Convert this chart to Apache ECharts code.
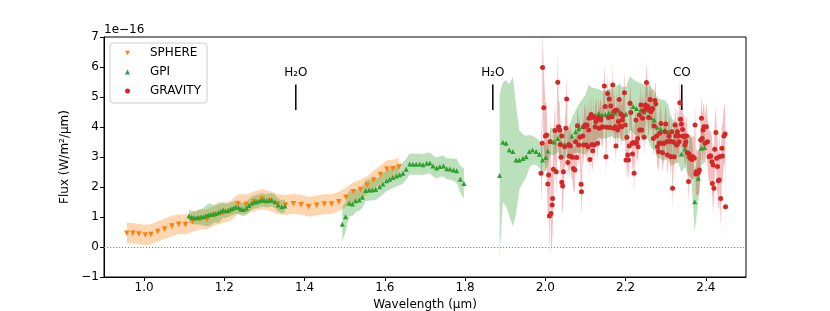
<!DOCTYPE html>
<html><head><meta charset="utf-8">
<script src="https://cdn.jsdelivr.net/npm/echarts@6/dist/echarts.min.js"></script>
<style>html,body{margin:0;padding:0;background:#fff}#c{width:830px;height:311px}</style>
</head><body><div id="c"></div>
<script>
// ---- DATA: [wavelength (µm), flux (1e-16 W/m2/µm), error] ----
const sphere = [
[0.957,0.46,0.34],[0.972,0.46,0.34],[0.987,0.43,0.34],[1.003,0.40,0.34],[1.017,0.42,0.34],
[1.034,0.52,0.34],[1.051,0.60,0.34],[1.069,0.70,0.34],[1.086,0.76,0.33],[1.103,0.75,0.33],
[1.121,0.84,0.33],[1.139,0.92,0.33],[1.157,0.92,0.33],[1.176,1.05,0.33],[1.196,1.13,0.33],
[1.215,1.20,0.33],[1.234,1.43,0.33],[1.254,1.42,0.33],[1.274,1.52,0.33],[1.294,1.60,0.33],
[1.313,1.54,0.33],[1.333,1.43,0.33],[1.352,1.40,0.33],[1.372,1.44,0.33],[1.391,1.41,0.33],
[1.410,1.34,0.33],[1.430,1.39,0.33],[1.449,1.43,0.33],[1.467,1.43,0.33],[1.485,1.51,0.32],
[1.503,1.66,0.32],[1.521,1.84,0.32],[1.539,1.92,0.32],[1.556,2.06,0.31],[1.572,2.23,0.31],
[1.589,2.42,0.30],[1.605,2.59,0.30],[1.620,2.61,0.30],[1.635,2.67,0.30]
];
const gpiJ = [
[1.112,1.03,0.22],[1.118,0.99,0.22],[1.123,0.98,0.22],[1.129,0.97,0.22],[1.135,0.99,0.24],
[1.141,1.00,0.26],[1.148,1.01,0.30],[1.154,1.04,0.34],[1.160,1.07,0.38],[1.166,1.08,0.36],
[1.172,1.10,0.30],[1.178,1.12,0.30],[1.185,1.14,0.34],[1.191,1.18,0.30],[1.197,1.23,0.26],
[1.203,1.20,0.24],[1.209,1.22,0.22],[1.216,1.27,0.22],[1.222,1.29,0.22],[1.228,1.33,0.22],
[1.235,1.32,0.22],[1.241,1.26,0.22],[1.247,1.25,0.22],[1.255,1.29,0.22],[1.261,1.38,0.22],
[1.268,1.46,0.22],[1.274,1.50,0.22],[1.280,1.51,0.22],[1.287,1.54,0.22],[1.293,1.57,0.22],
[1.299,1.56,0.22],[1.305,1.54,0.22],[1.312,1.56,0.22],[1.318,1.57,0.22],[1.326,1.51,0.22],
[1.334,1.40,0.22],[1.343,1.34,0.22],[1.351,1.37,0.22]
];
const gpiH = [
[1.494,0.76,0.58],[1.502,1.01,0.50],[1.511,1.46,0.44],[1.519,1.43,0.40],[1.527,1.54,0.38],
[1.536,1.57,0.36],[1.544,1.66,0.36],[1.552,1.88,0.35],[1.561,1.90,0.35],[1.569,1.90,0.35],
[1.577,1.92,0.35],[1.587,2.01,0.35],[1.595,2.10,0.35],[1.604,2.21,0.35],[1.612,2.26,0.35],
[1.620,2.32,0.35],[1.629,2.37,0.35],[1.637,2.41,0.35],[1.645,2.46,0.35],[1.653,2.59,0.35],
[1.662,2.77,0.35],[1.670,2.76,0.35],[1.678,2.76,0.35],[1.687,2.77,0.35],[1.695,2.74,0.35],
[1.704,2.79,0.35],[1.712,2.80,0.35],[1.720,2.70,0.35],[1.729,2.63,0.35],[1.737,2.68,0.35],
[1.746,2.70,0.35],[1.754,2.61,0.35],[1.762,2.60,0.36],[1.771,2.57,0.37],[1.779,2.54,0.40],
[1.788,2.26,0.45],[1.797,2.12,0.50]
];
const gpiK = [
[1.886,2.38,2.70],[1.894,3.49,2.00],[1.902,3.46,2.10],[1.910,3.23,2.20],[1.919,3.18,2.50],
[1.927,2.90,1.80],[1.935,2.90,1.00],[1.944,2.95,0.80],[1.952,3.01,0.70],[1.960,3.18,0.55],
[1.968,3.23,0.48],[1.977,3.18,0.45],[1.985,3.09,0.45],[1.993,2.90,0.45],[2.001,2.98,0.45],
[2.006,3.20,0.45],[2.014,3.53,0.45],[2.022,3.50,0.45],[2.031,3.62,0.45],[2.039,3.46,0.45],
[2.047,3.42,0.45],[2.056,3.40,0.50],[2.066,3.70,0.60],[2.075,3.84,0.70],[2.083,3.94,0.80],
[2.091,4.01,0.90],[2.100,4.07,1.00],[2.108,4.32,1.10],[2.116,4.32,1.00],[2.124,4.39,0.90],
[2.133,4.46,0.80],[2.141,4.40,0.80],[2.149,4.42,0.80],[2.158,4.46,0.80],[2.166,4.49,0.80],
[2.174,4.47,0.85],[2.184,4.54,0.90],[2.192,4.43,0.90],[2.201,4.43,0.90],[2.211,4.81,0.90],
[2.219,4.68,0.90],[2.227,4.62,0.90],[2.238,4.57,0.90],[2.246,4.50,0.90],[2.254,4.57,0.95],
[2.263,4.32,1.00],[2.271,4.23,1.00],[2.279,3.99,1.00],[2.288,3.92,1.00],[2.298,3.90,1.00],
[2.306,3.84,0.90],[2.314,3.51,0.80],[2.323,3.48,0.70],[2.331,3.46,0.65],[2.339,3.10,0.60],
[2.348,3.27,0.60],[2.356,3.04,0.65],[2.364,3.01,0.75],[2.372,1.51,1.00],[2.381,2.29,0.80],
[2.389,3.29,0.55],[2.397,3.32,0.50]
];
const gravity = [
[1.989,2.46,1.00],[1.992,3.46,1.20],[1.993,5.98,1.20],[1.996,4.64,1.30],[2.000,3.70,1.10],
[2.003,3.73,1.10],[2.006,2.10,1.20],[2.008,2.40,1.30],[2.010,1.03,1.40],[2.012,3.51,1.10],
[2.014,1.12,1.30],[2.017,1.40,1.20],[2.018,1.62,1.10],[2.020,2.59,1.00],[2.024,3.88,0.90],
[2.027,2.51,0.90],[2.031,5.49,1.00],[2.033,4.01,0.90],[2.036,3.90,0.90],[2.037,3.42,0.80],
[2.039,2.99,0.80],[2.041,3.70,0.80],[2.041,2.16,0.90],[2.043,2.03,0.90],[2.045,2.51,0.80],
[2.048,3.34,0.80],[2.051,3.96,0.75],[2.053,4.93,0.80],[2.056,2.82,0.75],[2.058,3.42,0.75],
[2.060,3.03,0.75],[2.062,3.37,0.70],[2.065,3.01,0.70],[2.068,2.99,0.75],[2.070,2.62,0.75],
[2.073,2.57,0.75],[2.075,3.51,0.70],[2.078,2.98,0.70],[2.080,4.04,0.70],[2.083,3.40,0.70],
[2.086,3.66,0.70],[2.089,2.09,0.75],[2.090,1.84,0.75],[2.093,3.70,0.70],[2.095,3.40,0.70],
[2.097,4.01,0.70],[2.099,4.07,0.70],[2.102,3.40,0.70],[2.104,4.07,0.70],[2.106,3.34,0.70],
[2.108,3.90,0.70],[2.109,4.29,0.70],[2.111,2.92,0.70],[2.114,4.42,0.70],[2.116,3.42,0.70],
[2.118,3.21,0.70],[2.119,4.34,0.70],[2.122,3.40,0.65],[2.124,4.01,0.65],[2.126,4.18,0.65],
[2.128,4.29,0.65],[2.130,3.46,0.65],[2.133,4.32,0.65],[2.134,3.96,0.65],[2.137,4.29,0.65],
[2.138,4.23,0.65],[2.141,3.99,0.65],[2.143,4.01,0.65],[2.147,5.37,0.70],[2.149,4.68,0.65],
[2.151,3.01,0.65],[2.153,3.99,0.65],[2.155,5.12,0.70],[2.157,4.32,0.65],[2.159,4.93,0.65],
[2.161,3.98,0.65],[2.163,4.70,0.65],[2.166,4.34,0.65],[2.168,5.40,0.70],[2.170,3.96,0.65],
[2.172,4.53,0.65],[2.174,4.01,0.65],[2.176,3.37,0.65],[2.177,4.57,0.65],[2.180,3.90,0.65],
[2.182,4.18,0.65],[2.184,4.92,0.65],[2.186,4.03,0.65],[2.188,4.43,0.65],[2.190,4.01,0.65],
[2.192,4.23,0.65],[2.194,4.37,0.65],[2.197,5.14,0.70],[2.199,4.07,0.65],[2.201,2.90,0.70],
[2.203,3.66,0.65],[2.205,3.07,0.65],[2.207,2.90,0.65],[2.209,3.37,0.65],[2.211,4.79,0.65],
[2.213,4.48,0.65],[2.216,3.46,0.65],[2.217,3.10,0.65],[2.219,3.48,0.65],[2.221,2.46,0.70],
[2.223,3.46,0.65],[2.226,4.23,0.65],[2.227,3.48,0.65],[2.230,3.62,0.65],[2.231,3.34,0.65],
[2.234,4.40,0.65],[2.235,3.90,0.65],[2.238,4.73,0.65],[2.240,3.90,0.65],[2.242,4.29,0.65],
[2.244,4.54,0.65],[2.246,3.66,0.65],[2.249,4.73,0.65],[2.250,4.62,0.65],[2.252,5.48,0.70],
[2.255,4.68,0.65],[2.257,4.32,0.65],[2.259,4.60,0.65],[2.261,4.92,0.65],[2.263,4.51,0.65],
[2.265,4.57,0.65],[2.267,4.62,0.65],[2.269,3.62,0.65],[2.271,4.03,0.65],[2.273,4.88,0.65],
[2.275,4.77,0.65],[2.277,3.70,0.65],[2.279,3.34,0.65],[2.282,3.18,0.65],[2.284,3.46,0.65],
[2.285,3.79,0.65],[2.288,4.12,0.65],[2.290,3.46,0.65],[2.292,3.14,0.65],[2.294,3.46,0.65],
[2.296,3.46,0.65],[2.298,3.84,0.65],[2.300,4.10,0.65],[2.303,3.51,0.70],[2.304,3.07,0.70],
[2.308,3.70,0.70],[2.310,3.53,0.70],[2.313,3.01,0.70],[2.315,3.84,0.70],[2.317,1.96,0.75],
[2.319,3.51,0.70],[2.321,3.01,0.70],[2.323,4.07,0.70],[2.325,3.70,0.70],[2.327,3.40,0.70],
[2.329,3.84,0.70],[2.332,3.70,0.70],[2.333,3.51,0.70],[2.335,4.81,0.75],[2.337,4.26,0.70],
[2.339,4.09,0.70],[2.342,3.92,0.70],[2.343,3.70,0.70],[2.346,3.68,0.70],[2.348,3.40,0.70],
[2.350,3.51,0.70],[2.352,3.70,0.70],[2.354,3.14,0.70],[2.357,2.18,0.75],[2.358,3.10,0.70],
[2.361,2.96,0.70],[2.362,2.99,0.70],[2.365,2.92,0.70],[2.366,2.96,0.70],[2.368,3.01,0.70],
[2.371,2.96,0.70],[2.373,4.07,0.75],[2.375,2.43,0.75],[2.376,2.51,0.75],[2.379,2.46,0.75],
[2.381,2.48,0.75],[2.384,2.57,0.75],[2.387,3.57,0.80],[2.389,4.29,0.80],[2.391,3.62,0.80],
[2.393,3.90,0.80],[2.395,4.01,0.80],[2.398,3.46,0.80],[2.401,4.01,0.85],[2.404,3.51,0.85],
[2.408,3.01,0.85],[2.410,3.03,0.85],[2.412,3.03,0.85],[2.415,2.84,0.85],[2.416,2.12,0.90],
[2.418,2.73,0.90],[2.420,1.96,0.95],[2.422,3.26,0.90],[2.425,3.82,0.90],[2.427,2.96,0.90],
[2.429,2.68,0.95],[2.431,2.21,0.95],[2.433,2.23,0.95],[2.434,3.01,0.95],[2.437,1.62,1.00],
[2.440,3.29,0.95],[2.441,3.03,0.95],[2.445,3.70,0.95],[2.448,3.77,1.00],[2.449,1.34,1.20]
];
const xTicks = [1.0,1.2,1.4,1.6,1.8,2.0,2.2,2.4];
const annotX = [1.378,1.869,2.340];
const annotText = ['H₂O','H₂O','CO'];
const annotLine = [4.57,5.42];
const annotTextY = 5.80;

// ---- CHART ----
const FONT = 'DejaVu Sans';
const orange = '#ff7f0e', green = '#2ca02c', red = '#d62728';

function bandSeries(segments, fill) {
  return {
    type: 'custom',
    silent: true,
    data: segments.map((s, i) => [s[0][0], s[0][1]]),
    renderItem: function (params, api) {
      const seg = segments[params.dataIndex].slice().sort((a, b) => a[0] - b[0]);
      const up = seg.map(r => api.coord([r[0], r[1] + r[2]]));
      const lo = seg.map(r => api.coord([r[0], r[1] - r[2]])).reverse();
      const cs = params.coordSys;
      return {
        type: 'group',
        clipPath: { type: 'rect', shape: { x: cs.x, y: cs.y, width: cs.width, height: cs.height } },
        children: [{ type: 'polygon', shape: { points: up.concat(lo) }, style: { fill: fill, stroke: null } }]
      };
    }
  };
}

const chart = echarts.init(document.getElementById('c'), null, { renderer: 'canvas' });
chart.setOption({
  animation: false,
  textStyle: { fontFamily: FONT },
  grid: { left: 104, right: 84, top: 37, bottom: 34, containLabel: false, outerBoundsMode: 'none',
    show: true, borderColor: '#000', borderWidth: 1, backgroundColor: 'transparent' },
  xAxis: {
    type: 'value', min: 0.9, max: 2.5,
    name: 'Wavelength (µm)', nameLocation: 'middle', nameGap: 19,
    nameTextStyle: { fontSize: 12, color: '#000', fontFamily: FONT },
    splitLine: { show: false },
    axisLine: { show: true, onZero: false, lineStyle: { color: '#000', width: 1 } },
    axisTick: { show: true, length: 4, lineStyle: { color: '#000' }, customValues: xTicks },
    axisLabel: { fontSize: 12, color: '#000', margin: 5, fontFamily: FONT, customValues: xTicks, formatter: v => v.toFixed(1) }
  },
  yAxis: {
    type: 'value', min: -1, max: 7, interval: 1,
    name: 'Flux (W/m²/µm)', nameLocation: 'middle', nameGap: 30, nameRotate: 90,
    nameTextStyle: { fontSize: 12, color: '#000', fontFamily: FONT },
    splitLine: { show: false },
    axisLine: { show: true, onZero: false, lineStyle: { color: '#000', width: 1 } },
    axisTick: { show: true, length: 4, lineStyle: { color: '#000' } },
    axisLabel: { fontSize: 12, color: '#000', margin: 5, fontFamily: FONT, formatter: v => String(v).replace('-', '−') }
  },
  graphic: [{ type: 'text', left: 104, top: 24, style: { text: '1e−16', font: '12px "DejaVu Sans"', fill: '#000' } }],
  legend: {
    orient: 'vertical', left: 110, top: 43,
    data: [
      { name: 'SPHERE', icon: 'path://M0,0L10,0L5,9Z' },
      { name: 'GPI', icon: 'triangle' },
      { name: 'GRAVITY', icon: 'circle' }
    ],
    itemWidth: 5, itemHeight: 5, itemGap: 7,
    padding: [4, 6, 6, 15],
    borderColor: '#cccccc', borderWidth: 1, borderRadius: 3, backgroundColor: 'rgba(255,255,255,0.8)',
    textStyle: { fontSize: 12, color: '#000', fontFamily: FONT, padding: [0, 0, 0, 15] }
  },
  series: [
    Object.assign(bandSeries([sphere], 'rgba(255,127,14,0.32)'), { name: 'SPHERE band' }),
    { name: 'SPHERE', type: 'scatter', symbol: 'triangle', symbolRotate: 180, symbolSize: 5.5,
      itemStyle: { color: orange, opacity: 1 }, data: sphere.map(r => [r[0], r[1]]),
      markLine: { silent: true, symbol: 'none', label: { show: false },
        lineStyle: { color: '#888888', type: [1.2, 1.8], width: 1, opacity: 1 }, data: [{ yAxis: 0 }] } },
    Object.assign(bandSeries([gpiJ, gpiH, gpiK], 'rgba(44,160,44,0.32)'), { name: 'GPI band' }),
    { name: 'GPI', type: 'scatter', symbol: 'triangle', symbolSize: 5,
      itemStyle: { color: green, opacity: 1 }, data: gpiJ.concat(gpiH, gpiK).map(r => [r[0], r[1]]) },
    Object.assign(bandSeries([gravity], 'rgba(214,39,40,0.3)'), { name: 'GRAVITY band' }),
    { name: 'GRAVITY', type: 'scatter', symbol: 'circle', symbolSize: 5,
      itemStyle: { color: red, opacity: 1 }, data: gravity.map(r => [r[0], r[1]]) },
    { name: 'annotations', type: 'custom', silent: true,
      data: annotX.map((x, i) => [x, annotTextY]),
      renderItem: function (params, api) {
        const i = params.dataIndex;
        const p0 = api.coord([annotX[i], annotLine[0]]);
        const p1 = api.coord([annotX[i], annotLine[1]]);
        const pt = api.coord([annotX[i], annotTextY]);
        return { type: 'group', children: [
          { type: 'line', shape: { x1: p0[0], y1: p0[1], x2: p1[0], y2: p1[1] }, style: { stroke: '#000', lineWidth: 1.5 } },
          { type: 'text', x: pt[0], y: pt[1], style: { text: annotText[i], font: '12px "DejaVu Sans"', fill: '#000', align: 'center', verticalAlign: 'middle' } }
        ] };
      } }
  ]
});
</script></body></html>
